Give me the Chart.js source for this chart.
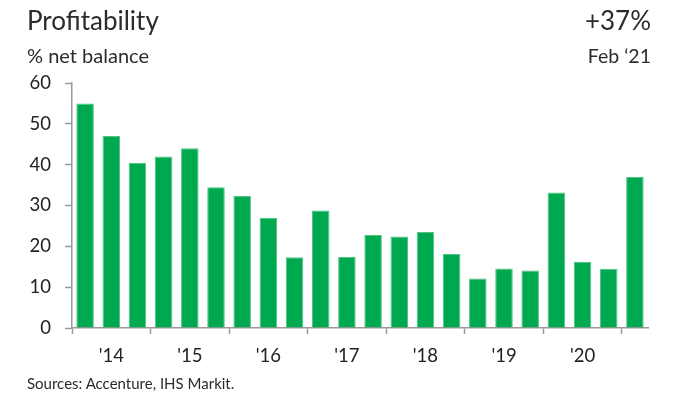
<!DOCTYPE html>
<html>
<head>
<meta charset="utf-8">
<script src="https://cdn.jsdelivr.net/npm/chart.js@4"></script>
<style>
  html, body { margin: 0; padding: 0; background: #fff; }
  #wrap { position: relative; width: 673px; height: 393px; overflow: hidden;
          font-family: Lato, "Noto Sans", sans-serif; color: #2b2b2b; }
  #wrap canvas { position: absolute; left: 0; top: 0; }
  .t { position: absolute; white-space: nowrap; line-height: 1; }
</style>
</head>
<body>
<div id="wrap">
  <canvas id="c" width="673" height="393"></canvas>
  <div class="t" style="left:27px; top:7px; font-size:26px;">Profitability</div>
  <div class="t" style="left:27px; top:45px; font-size:20px;">% net balance</div>
  <div class="t" style="right:22px; top:7px; font-size:26px;">+37%</div>
  <div class="t" style="right:22px; top:46px; font-size:19.5px;">Feb ‘21</div>
  <div class="t" style="left:27px; top:376px; font-size:15px;">Sources: Accenture, IHS Markit.</div>
</div>
<script>
// Survey periods: Feb, Jun and Oct of each year, ending Feb 2021
const periods = [
  "Feb 14", "Jun 14", "Oct 14",
  "Feb 15", "Jun 15", "Oct 15",
  "Feb 16", "Jun 16", "Oct 16",
  "Feb 17", "Jun 17", "Oct 17",
  "Feb 18", "Jun 18", "Oct 18",
  "Feb 19", "Jun 19", "Oct 19",
  "Feb 20", "Jun 20", "Oct 20",
  "Feb 21"
];
// Profitability, % net balance
const netBalance = [
  55, 47, 40.5,
  42, 44, 34.5,
  32.3, 27, 17.3,
  28.8, 17.4, 22.8,
  22.4, 23.5, 18.1,
  12.1, 14.6, 14.1,
  33.2, 16.2, 14.5,
  37
];
// Year labels shown under the middle survey of each year
const yearLabels = ["'14", "'15", "'16", "'17", "'18", "'19", "'20"];
const yTicks = [0, 10, 20, 30, 40, 50, 60];

const axisGrey = '#9a9a9a';
const textColor = '#222';
const fontFamily = 'Lato, "Noto Sans", sans-serif';

new Chart(document.getElementById('c'), {
  type: 'bar',
  data: {
    labels: periods,
    datasets: [{
      data: netBalance,
      backgroundColor: '#00a94f',
      borderColor: '#52c484',
      borderWidth: { top: 1, left: 1, right: 1, bottom: 0 },
      borderSkipped: 'bottom',
      categoryPercentage: 1,
      barPercentage: 0.67
    }]
  },
  options: {
    responsive: false,
    animation: false,
    devicePixelRatio: 1,
    layout: { padding: { left: 0, top: 83, right: 25, bottom: 0 } },
    plugins: { legend: { display: false }, tooltip: { enabled: false } },
    scales: {
      x: {
        grid: {
          offset: true,
          drawOnChartArea: false,
          tickLength: 6,
          tickColor: (ctx) => (ctx.index % 3 === 0 ? axisGrey : 'rgba(0,0,0,0)'),
          tickWidth: 1.5
        },
        border: { color: axisGrey, width: 1.5 },
        ticks: {
          autoSkip: false,
          maxRotation: 0,
          padding: 11,
          color: textColor,
          font: { family: fontFamily, size: 18.5 },
          callback: (v, i) => (i % 3 === 1 ? yearLabels[(i - 1) / 3] : '')
        },
        afterFit: (s) => { s.height = 65; }
      },
      y: {
        min: 0,
        max: 60,
        afterBuildTicks: (s) => { s.ticks = yTicks.map(v => ({ value: v })); },
        grid: {
          drawOnChartArea: false,
          tickLength: 7,
          tickColor: axisGrey,
          tickWidth: 1.5
        },
        border: { color: axisGrey, width: 1.5 },
        ticks: {
          padding: 14,
          color: textColor,
          font: { family: fontFamily, size: 18.5 }
        },
        afterFit: (s) => { s.width = 72; }
      }
    }
  }
});
</script>
</body>
</html>
